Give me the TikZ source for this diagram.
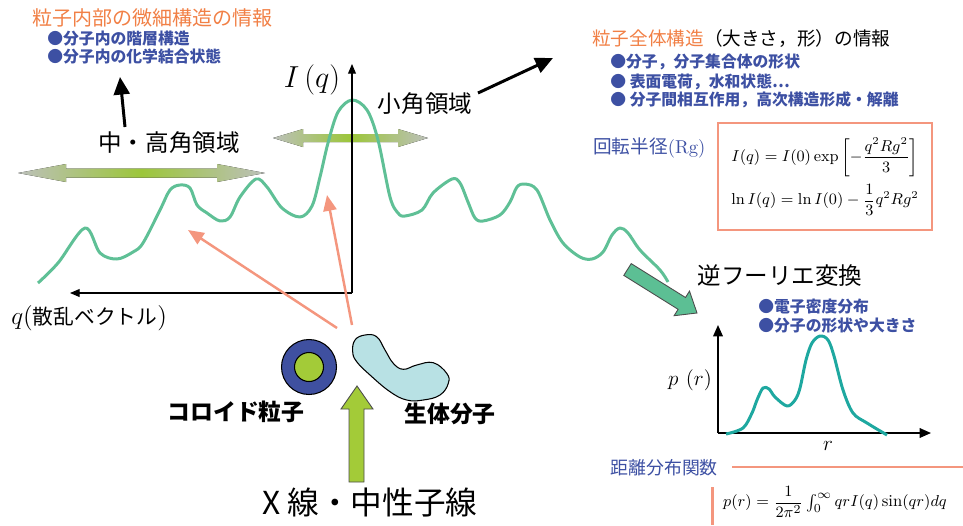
\documentclass[tikz,border=0pt]{standalone}
\usepackage{fontspec}
\usepackage{amsmath}
\usepackage{xcolor}
\newfontfamily\jpfont{Noto Sans CJK JP}
\usetikzlibrary{arrows.meta}

\definecolor{curvegreen}{RGB}{95,192,150}
\definecolor{salmon}{RGB}{244,150,126}
\definecolor{infoblue}{RGB}{61,80,163}
\definecolor{infoorange}{RGB}{241,128,70}
\definecolor{limegreen}{RGB}{163,203,56}
\definecolor{shellblue}{RGB}{63,80,160}
\definecolor{blobcyan}{RGB}{184,225,228}
\definecolor{prteal}{RGB}{30,168,160}
\definecolor{arrowgreen}{RGB}{92,191,148}
\definecolor{shadegray}{RGB}{188,192,186}
\definecolor{shadegreen}{RGB}{156,198,58}

\tikzset{
  jp/.style={font=\jpfont\fontsize{#1}{#1}\selectfont, inner sep=0pt},
  jpb/.style={font=\jpfont\bfseries\fontsize{#1}{#1}\selectfont, inner sep=0pt},
  info/.style={jpb=9, text=infoblue, anchor=west},
  bigarrow/.style={line width=1.7pt, -{Triangle[length=10pt,width=9pt]}},
  ray/.style={salmon, line width=1.4pt, -{Triangle[length=9pt,width=7.5pt]}},
  qaxis/.style={line width=0.6pt, -{Triangle[length=5.5pt,width=4.5pt]}},
  praxis/.style={line width=0.9pt, -{Triangle[length=6.5pt,width=5.5pt]}},
  band/.style={left color=shadegray, right color=shadegray, middle color=shadegreen},
}

\begin{document}
\begin{tikzpicture}[x=0.02cm, y=-0.02cm]
\useasboundingbox (0,0) rectangle (963,525);

\coordinate (O) at (352,293);
\coordinate (Qend) at (70,293);
\coordinate (Iend) at (352,64);

 %shaded bands
 \fill[band] (18,173) -- (66,164) -- (66,168.5) -- (217,168.5) -- (217,164) -- (265,173)
   -- (217,182) -- (217,177.5) -- (66,177.5) -- (66,182) -- cycle;
 \fill[band] (273,138) -- (303,129) -- (303,134) -- (398,134) -- (398,129) -- (428,138)
   -- (398,147) -- (398,142) -- (303,142) -- (303,147) -- cycle;

 %scattering curve
 \draw[curvegreen, line width=1.7pt, line join=round] plot[smooth, tension=0.55] coordinates {
   (38,283) (58,263) (85,228) (100,253) (117,259) (133,252) (143,243) (160,210) (170,190)
   (180,185) (190,188) (197,205) (207,213) (220,221) (230,217) (240,197) (256,179) (267,187)
   (282,208) (300,217) (312,206) (320,177) (328,143) (338,112) (352,100) (367,110) (378,140)
   (390,197) (398,213) (405,216) (422,210) (433,193) (452,179) (460,183) (468,202) (475,218)
   (483,221) (500,215) (510,202) (517,187) (525,184) (537,190) (550,220) (563,243) (580,257)
   (592,259) (603,252) (612,235) (620,228) (628,233) (640,250) (660,270) (668,282)};

 %axes:
 \draw[qaxis] (O) -- (Qend);
 \draw[qaxis] (O) -- (Iend);
 \node[font=\fontsize{16}{16}\selectfont] (Ilabel) at (312,80) {$I\,(q)$};
 \node[anchor=west, inner sep=0pt] (qlabel) at (11,318)
   {\fontsize{15}{15}\selectfont$q($\jpfont\fontsize{11.8}{12}\selectfont 散乱ベクトル\fontsize{15}{15}\selectfont$)$};

 %angle regions
 \node[jp=13.4] (hiangle) at (169,143) {中・高角領域};
 \node[jp=13.4] (smallangle) at (425,104) {小角領域};

 %information texts
 \node[jp=11.4, text=infoorange, anchor=west] (fine) at (32,18) {粒子内部の微細構造の情報};
 \node[info] (fine1) at (47,39) {●分子内の階層構造};
 \node[info] (fine2) at (47,57) {●分子内の化学結合状態};
 \node[jp=10.6, anchor=west] (whole) at (592,39) {\textcolor{infoorange}{粒子全体構造}（大きさ，形）の情報};
 \node[info] (whole1) at (610,62) {●分子，分子集合体の形状};
 \node[info] (whole2) at (610,82) {● 表面電荷，水和状態⋯};
 \node[info] (whole3) at (610,100) {● 分子間相互作用，高次構造形成・解離};

 \coordinate (hitail) at (125,127);
 \coordinate (hitip) at (120,77);
 \coordinate (lowtail) at (478,93);
 \coordinate (lowtip) at (553,58);
 \draw[bigarrow] (hitail) -- (hitip);
 \draw[bigarrow] (lowtail) -- (lowtip);

 %Guinier
 \node[jp=10.6, text=infoblue, anchor=west] (rg) at (593,148) {回転半径{\rmfamily(Rg)}};
 \draw[salmon, line width=1.4pt] (718,123) rectangle (932,230);
 \node[font=\fontsize{9}{10}\selectfont] (guinier) at (825,157)
   {$I(q)=I(0)\exp\left[-\dfrac{q^2Rg^2}{3}\right]$};
 \node[font=\fontsize{9}{10}\selectfont] (lnguinier) at (825,200)
   {$\ln I(q)=\ln I(0)-\dfrac{1}{3}q^2Rg^2$};

 %scattered rays
 \coordinate (srcA) at (337,328);
 \coordinate (srcB) at (352,325);
 \coordinate (tipA) at (188,230);
 \coordinate (tipB) at (327,195);
 \draw[ray] (srcA) -- (tipA);
 \draw[ray] (srcB) -- (tipB);

 %samples
 \draw[fill=shellblue, line width=0.6pt] (309,367) circle (0.55cm);
 \draw[fill=limegreen, line width=0.6pt] (309,367) circle (0.29cm);
 \draw[fill=blobcyan, line width=0.6pt] plot[smooth cycle, tension=0.7] coordinates {
   (352.7,351.7) (355,340) (365,335) (376.7,336.7) (385,350) (393.3,363.3) (403.3,369.3)
   (416.7,365) (433.3,362.7) (446.7,373.3) (448.3,383.3) (440,395) (423.3,400) (406.7,400)
   (390,391.7) (370,375) (356.7,361.7)};
 \node[jpb=13] (colloid) at (236,412) {コロイド粒子};
 \node[jpb=13] (bio) at (450,414) {生体分子};

 %incident beam
 \draw[fill=limegreen, draw=black!70, line width=0.5pt] (357,386) -- (373,409) -- (364,409)
   -- (364,482) -- (349,482) -- (349,409) -- (341,409) -- cycle;
 \node[jp=18] (beam) at (370,503) {X 線・中性子線};

 %inverse Fourier transform
 \fill[arrowgreen, draw=black!70, line width=0.5pt] (623.8,275.4) -- (678.1,309.3) -- (674.1,315.7)
   -- (697,313) -- (689.5,291.1) -- (685.5,297.5) -- (631.2,263.6) -- cycle;
 \node[jp=13.4] (ift) at (780,276) {逆フーリエ変換};
 \node[info] (pr1) at (758,307) {●電子密度分布};
 \node[info] (pr2) at (758,326) {●分子の形状や大きさ};

 %p(r) plot
 \coordinate (P0) at (718,433);
 \coordinate (Ptop) at (718,325);
 \coordinate (Pright) at (931,433);
 \draw[praxis] (P0) -- (Ptop);
 \draw[praxis] (P0) -- (Pright);
 \node[font=\fontsize{13}{13}\selectfont] (prlabel) at (690,380) {$p\ (r)$};
 \node[font=\fontsize{13}{13}\selectfont] (rlabel) at (828,446) {$r$};
 \draw[prteal, line width=1.7pt, line join=round] plot[smooth, tension=0.55] coordinates {
   (726,434) (743,428) (752,413) (757,400) (763,388) (769,389) (775,397) (787,406) (795,400)
   (800,388) (806,360) (812,343) (820,336) (828,340) (834,356) (843,390) (853,413) (867,423)
   (887,435)};

 %distance distribution
 \node[jp=10.2, text=infoblue, anchor=west] (ddf) at (610,468) {距離分布関数};
 \coordinate (lineA) at (732,467);
 \coordinate (lineB) at (963,467);
 \coordinate (barA) at (712,487);
 \coordinate (barB) at (712,525);
 \draw[salmon, line width=1.5pt] (lineA) -- (lineB);
 \draw[salmon, line width=1.7pt] (barA) -- (barB);
 \node[font=\fontsize{9.5}{11}\selectfont] (prformula) at (835,502)
   {$p(r)=\dfrac{1}{2\pi^2}\int_0^\infty qrI(q)\sin(qr)dq$};
\end{tikzpicture}
\end{document}
